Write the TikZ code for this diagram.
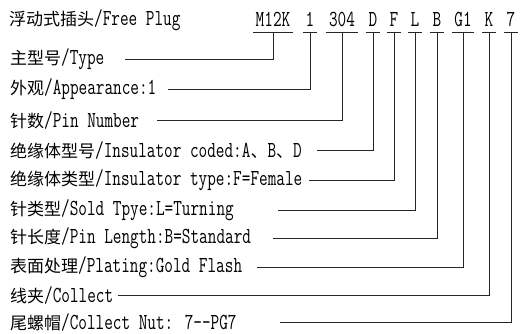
\documentclass[tikz,border=0pt]{standalone}
\usepackage{fontspec}
\newfontfamily\latin{Latin Modern Mono}[FakeStretch=0.73,Scale=1.35]
\newfontfamily\cjk{Noto Sans CJK SC}
\usetikzlibrary{positioning}

\begin{document}
\begin{tikzpicture}[
    x=1pt, y=-1pt,
    lbl/.style={anchor=west, inner sep=0pt,
                font=\fontsize{17}{20}\selectfont\latin},
    code/.style={inner xsep=2.5pt, inner ysep=0pt, minimum height=26pt,
                 font=\fontsize{17}{20}\selectfont\latin},
    link/.style={draw=black!85, line width=0.9pt},
  ]
  \useasboundingbox (0,0) rectangle (528,334);

  % Title
  \node[lbl] (title) at (9,20) {{\cjk 浮动式插头}/Free Plug};

  % --- Part number, one underlined field each ---
  \foreach \n/\x/\t in {c1/273/M12K, c2/310/1, c3/342/304, c4/373/D,
                        c5/394/F, c6/415/L, c7/437/B, c8/463/G1,
                        c9/489/K, c10/511/7}
  {
    \node[code] (\n) at (\x,19) {\t};
    \draw[link] (\n.south west) -- (\n.south east);
  }

  % --- Field descriptions ---
  \node[lbl] (l1) at (10,59) {{\cjk 主型号}/Type};
  \node[lbl] (l2) at (10,89) {{\cjk 外观}/Appearance:1};
  \node[lbl] (l3) at (10,120) {{\cjk 针数}/Pin Number};
  \node[lbl] (l4) at (10,150) {{\cjk 绝缘体型号}/Insulator coded:A{\cjk 、}B{\cjk 、}D};
  \node[lbl] (l5) at (10,180) {{\cjk 绝缘体类型}/Insulator type:F=Female};
  \node[lbl] (l6) at (10,210) {{\cjk 针类型}/Sold Tpye:L=Turning};
  \node[lbl] (l7) at (10,238) {{\cjk 针长度}/Pin Length:B=Standard};
  \node[lbl] (l8) at (10,267) {{\cjk 表面处理}/Plating:Gold Flash};
  \node[lbl] (l9) at (10,295) {{\cjk 线夹}/Collect};
  \node[lbl] (l10) at (10,322) {{\cjk 尾螺帽}/Collect Nut: 7--PG7};

  % Line starts next to the descriptions
  \foreach \i/\x/\y in {1/125/59, 2/168/89, 3/157/120, 4/317/150,
                        5/309/180, 6/278/210, 7/273/238, 8/257/267,
                        9/118/295, 10/280/322}
    \coordinate (s\i) at (\x,\y);

  % Leader lines
  \foreach \i in {1,...,10}
    \draw[link] (c\i.south) |- (s\i);

\end{tikzpicture}
\end{document}
